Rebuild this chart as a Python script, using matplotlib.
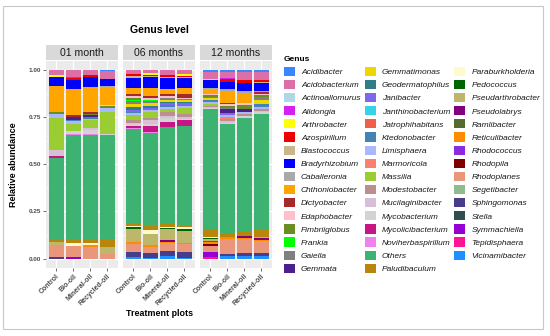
import matplotlib
matplotlib.use("Agg")
import matplotlib.pyplot as plt
from matplotlib.patches import Patch, Rectangle

plt.rcParams['font.family'] = ['Liberation Sans', 'DejaVu Sans']

# legend / stacking order (first level sits on top of the stack, like ggplot)
genera = ['Acidibacter', 'Acidobacterium', 'Actinoallomurus', 'Alidongia', 'Arthrobacter',
          'Azospirillum', 'Blastococcus', 'Bradyrhizobium', 'Caballeronia', 'Chthoniobacter',
          'Dictyobacter', 'Edaphobacter', 'Fimbriiglobus', 'Frankia', 'Gaiella', 'Gemmata',
          'Gemmatimonas', 'Geodermatophilus', 'Janibacter', 'Janthinobacterium',
          'Jatrophihabitans', 'Ktedonobacter', 'Limisphaera', 'Marmoricola', 'Massilia',
          'Modestobacter', 'Mucilaginibacter', 'Mycobacterium', 'Mycolicibacterium',
          'Noviherbaspirillum', 'Others', 'Paludibaculum', 'Paraburkholderia', 'Pedococcus',
          'Pseudarthrobacter', 'Pseudolabrys', 'Ramlibacter', 'Reticulibacter', 'Rhodococcus',
          'Rhodopila', 'Rhodoplanes', 'Segetibacter', 'Sphingomonas', 'Stella', 'Symmachiella',
          'Tepidisphaera', 'Vicinamibacter']
genus_colors = ['#3A86FF', '#DB70A8', '#ADD8E6', '#D41FF0', '#FFFF00',
                '#EE0000', '#C9B68C', '#0000FF', '#A9A9A9', '#FFA500',
                '#A52A2A', '#FFC0CB', '#6B8E23', '#00FF00', '#808080', '#4E1E8E',
                '#EED600', '#2E7D87', '#7B68EE', '#36D3E8',
                '#F06048', '#4682B4', '#AAB9FF', '#FA8072', '#9ACD32',
                '#BC8F8F', '#D8BFD8', '#D3D3D3', '#C71585',
                '#EE82EE', '#3CB371', '#B8860B', '#FFFACD', '#006400',
                '#BDB76B', '#800080', '#556B2F', '#FF8C00', '#8A2BE2',
                '#800000', '#E9967A', '#8FBC8F', '#483D8B', '#2F4F4F', '#9400D3',
                '#FF1493', '#1E90FF']

months = ['01 month', '06 months', '12 months']
treatments = ['Control', 'Bio-oil', 'Mineral-oil', 'Recycled-oil']
y_ticks = [0, 0.25, 0.5, 0.75, 1.0]
y_tick_labels = ['0.00', '0.25', '0.50', '0.75', '1.00']

# relative abundances (genera not listed are ~0)
m01_control = {'Acidobacterium': 0.025, 'Arthrobacter': 0.015, 'Bradyrhizobium': 0.045,
               'Chthoniobacter': 0.14, 'Fimbriiglobus': 0.01, 'Limisphaera': 0.02,
               'Massilia': 0.17, 'Mucilaginibacter': 0.03, 'Mycolicibacterium': 0.01,
               'Others': 0.435, 'Paludibaculum': 0.012, 'Pseudarthrobacter': 0.018,
               'Rhodoplanes': 0.06, 'Sphingomonas': 0.01}
m01_bio = {'Acidobacterium': 0.04, 'Alidongia': 0.005, 'Azospirillum': 0.008,
           'Bradyrhizobium': 0.05, 'Chthoniobacter': 0.135, 'Dictyobacter': 0.012,
           'Gemmata': 0.013, 'Ktedonobacter': 0.01, 'Limisphaera': 0.012, 'Massilia': 0.04,
           'Mycobacterium': 0.015, 'Noviherbaspirillum': 0.005, 'Others': 0.555,
           'Paludibaculum': 0.02, 'Paraburkholderia': 0.012, 'Rhodoplanes': 0.058,
           'Symmachiella': 0.01}
m01_mineral = {'Acidobacterium': 0.025, 'Azospirillum': 0.01, 'Bradyrhizobium': 0.055,
               'Chthoniobacter': 0.135, 'Dictyobacter': 0.007, 'Fimbriiglobus': 0.008,
               'Gemmata': 0.008, 'Ktedonobacter': 0.01, 'Limisphaera': 0.01, 'Massilia': 0.04,
               'Mucilaginibacter': 0.01, 'Mycobacterium': 0.02, 'Noviherbaspirillum': 0.005,
               'Others': 0.555, 'Paludibaculum': 0.02, 'Paraburkholderia': 0.012,
               'Reticulibacter': 0.01, 'Rhodoplanes': 0.06}
m01_recycled = {'Acidibacter': 0.006, 'Acidobacterium': 0.04, 'Bradyrhizobium': 0.037,
                'Caballeronia': 0.006, 'Chthoniobacter': 0.097, 'Edaphobacter': 0.006,
                'Fimbriiglobus': 0.01, 'Limisphaera': 0.02, 'Massilia': 0.115,
                'Mycobacterium': 0.008, 'Others': 0.555, 'Paludibaculum': 0.04,
                'Pseudarthrobacter': 0.035, 'Rhodoplanes': 0.025}

m06_control = {'Acidobacterium': 0.02, 'Azospirillum': 0.01, 'Blastococcus': 0.015,
               'Bradyrhizobium': 0.05, 'Chthoniobacter': 0.03, 'Dictyobacter': 0.01,
               'Edaphobacter': 0.015, 'Fimbriiglobus': 0.008, 'Frankia': 0.008,
               'Gaiella': 0.015, 'Gemmatimonas': 0.015, 'Geodermatophilus': 0.015,
               'Janibacter': 0.012, 'Ktedonobacter': 0.005, 'Limisphaera': 0.01,
               'Massilia': 0.025, 'Modestobacter': 0.015, 'Mucilaginibacter': 0.01,
               'Mycobacterium': 0.01, 'Mycolicibacterium': 0.01, 'Noviherbaspirillum': 0.005,
               'Others': 0.495, 'Paludibaculum': 0.015, 'Paraburkholderia': 0.008,
               'Pedococcus': 0.007, 'Pseudarthrobacter': 0.07, 'Reticulibacter': 0.012,
               'Rhodoplanes': 0.04, 'Sphingomonas': 0.03, 'Vicinamibacter': 0.006}
m06_bio = {'Acidobacterium': 0.015, 'Arthrobacter': 0.01, 'Azospirillum': 0.008,
           'Blastococcus': 0.005, 'Bradyrhizobium': 0.055, 'Chthoniobacter': 0.045,
           'Dictyobacter': 0.01, 'Edaphobacter': 0.008, 'Frankia': 0.008, 'Gaiella': 0.01,
           'Gemmatimonas': 0.015, 'Geodermatophilus': 0.012, 'Janibacter': 0.01,
           'Limisphaera': 0.012, 'Massilia': 0.03, 'Modestobacter': 0.012,
           'Mucilaginibacter': 0.02, 'Mycobacterium': 0.01, 'Mycolicibacterium': 0.03,
           'Noviherbaspirillum': 0.01, 'Others': 0.49, 'Paludibaculum': 0.02,
           'Paraburkholderia': 0.02, 'Pseudarthrobacter': 0.06, 'Reticulibacter': 0.01,
           'Rhodoplanes': 0.03, 'Sphingomonas': 0.025, 'Vicinamibacter': 0.005}
m06_mineral = {'Acidobacterium': 0.025, 'Azospirillum': 0.015, 'Blastococcus': 0.005,
               'Bradyrhizobium': 0.055, 'Chthoniobacter': 0.03, 'Dictyobacter': 0.008,
               'Edaphobacter': 0.012, 'Gaiella': 0.01, 'Gemmatimonas': 0.01,
               'Geodermatophilus': 0.005, 'Janibacter': 0.01, 'Ktedonobacter': 0.012,
               'Limisphaera': 0.008, 'Massilia': 0.02, 'Modestobacter': 0.02,
               'Mucilaginibacter': 0.01, 'Mycobacterium': 0.02, 'Mycolicibacterium': 0.025,
               'Others': 0.51, 'Paludibaculum': 0.02, 'Paraburkholderia': 0.008,
               'Pedococcus': 0.007, 'Pseudarthrobacter': 0.055, 'Pseudolabrys': 0.01,
               'Reticulibacter': 0.008, 'Rhodoplanes': 0.042, 'Sphingomonas': 0.025,
               'Vicinamibacter': 0.015}
m06_recycled = {'Acidobacterium': 0.02, 'Arthrobacter': 0.01, 'Azospirillum': 0.008,
                'Blastococcus': 0.005, 'Bradyrhizobium': 0.055, 'Chthoniobacter': 0.03,
                'Dictyobacter': 0.02, 'Edaphobacter': 0.005, 'Gaiella': 0.008,
                'Gemmatimonas': 0.01, 'Geodermatophilus': 0.005, 'Janibacter': 0.015,
                'Limisphaera': 0.01, 'Massilia': 0.03, 'Modestobacter': 0.02,
                'Mucilaginibacter': 0.008, 'Mycobacterium': 0.006, 'Mycolicibacterium': 0.03,
                'Others': 0.53, 'Paludibaculum': 0.008, 'Paraburkholderia': 0.01,
                'Pedococcus': 0.012, 'Pseudarthrobacter': 0.06, 'Reticulibacter': 0.01,
                'Rhodoplanes': 0.04, 'Sphingomonas': 0.03, 'Vicinamibacter': 0.005}

m12_control = {'Acidibacter': 0.01, 'Acidobacterium': 0.04, 'Actinoallomurus': 0.005,
               'Bradyrhizobium': 0.04, 'Caballeronia': 0.005, 'Chthoniobacter': 0.03,
               'Edaphobacter': 0.005, 'Fimbriiglobus': 0.008, 'Gaiella': 0.005,
               'Gemmatimonas': 0.01, 'Ktedonobacter': 0.01, 'Limisphaera': 0.012,
               'Massilia': 0.01, 'Modestobacter': 0.005, 'Mucilaginibacter': 0.005,
               'Mycobacterium': 0.005, 'Others': 0.64, 'Paludibaculum': 0.04,
               'Paraburkholderia': 0.005, 'Pedococcus': 0.008, 'Pseudarthrobacter': 0.008,
               'Ramlibacter': 0.005, 'Reticulibacter': 0.01, 'Rhodopila': 0.01,
               'Rhodoplanes': 0.035, 'Symmachiella': 0.028, 'Tepidisphaera': 0.006}
m12_bio = {'Acidibacter': 0.01, 'Acidobacterium': 0.035, 'Alidongia': 0.005,
           'Azospirillum': 0.015, 'Bradyrhizobium': 0.035, 'Caballeronia': 0.01,
           'Chthoniobacter': 0.065, 'Dictyobacter': 0.005, 'Edaphobacter': 0.01,
           'Fimbriiglobus': 0.01, 'Gaiella': 0.01, 'Gemmata': 0.02, 'Janibacter': 0.008,
           'Limisphaera': 0.012, 'Marmoricola': 0.01, 'Modestobacter': 0.01,
           'Mucilaginibacter': 0.012, 'Mycobacterium': 0.008, 'Others': 0.584,
           'Paludibaculum': 0.015, 'Reticulibacter': 0.01, 'Rhodoplanes': 0.08,
           'Sphingomonas': 0.01, 'Vicinamibacter': 0.015}
m12_mineral = {'Acidibacter': 0.01, 'Acidobacterium': 0.045, 'Azospirillum': 0.012,
               'Bradyrhizobium': 0.045, 'Caballeronia': 0.01, 'Chthoniobacter': 0.055,
               'Edaphobacter': 0.008, 'Fimbriiglobus': 0.02, 'Gemmata': 0.02,
               'Limisphaera': 0.008, 'Modestobacter': 0.01, 'Mycobacterium': 0.01,
               'Others': 0.60, 'Paludibaculum': 0.025, 'Pseudarthrobacter': 0.005,
               'Pseudolabrys': 0.01, 'Reticulibacter': 0.005, 'Rhodoplanes': 0.075,
               'Sphingomonas': 0.015, 'Vicinamibacter': 0.012}
m12_recycled = {'Acidibacter': 0.01, 'Acidobacterium': 0.045, 'Azospirillum': 0.01,
                'Blastococcus': 0.005, 'Bradyrhizobium': 0.04, 'Caballeronia': 0.005,
                'Dictyobacter': 0.01, 'Edaphobacter': 0.01, 'Fimbriiglobus': 0.01,
                'Gaiella': 0.015, 'Gemmatimonas': 0.02, 'Ktedonobacter': 0.015,
                'Limisphaera': 0.01, 'Modestobacter': 0.015, 'Mucilaginibacter': 0.005,
                'Mycobacterium': 0.01, 'Others': 0.615, 'Paludibaculum': 0.035,
                'Pseudarthrobacter': 0.008, 'Pseudolabrys': 0.01, 'Reticulibacter': 0.005,
                'Rhodoplanes': 0.06, 'Sphingomonas': 0.02, 'Vicinamibacter': 0.012}

samples = [[m01_control, m01_bio, m01_mineral, m01_recycled],
           [m06_control, m06_bio, m06_mineral, m06_recycled],
           [m12_control, m12_bio, m12_mineral, m12_recycled]]

W, H = 550, 336
fig = plt.figure(figsize=(W / 100, H / 100), dpi=100)


def px_box(x0, y0, x1, y1):
    # pixel box (top-left origin) -> figure fraction rect
    return [x0 / W, 1 - y1 / H, (x1 - x0) / W, (y1 - y0) / H]


panel_left = [46, 123, 200]
panel_w = 71.5

for p, month in enumerate(months):
    x0 = panel_left[p]
    ax = fig.add_axes(px_box(x0, 60.5, x0 + panel_w, 268))
    ax.set_facecolor('#EBEBEB')
    for s in ax.spines.values():
        s.set_visible(False)
    ax.set_xlim(0.4, 4.6)
    ax.set_ylim(-0.05, 1.05)
    ax.set_axisbelow(True)
    ax.set_yticks(y_ticks)
    ax.set_yticks([0.125, 0.375, 0.625, 0.875], minor=True)
    ax.grid(True, which='major', color='white', linewidth=0.9)
    ax.grid(True, which='minor', axis='y', color='white', linewidth=0.45)

    for i, sample in enumerate(samples[p]):
        total = sum(sample.values())
        bottom = 0.0
        for genus, col in zip(reversed(genera), reversed(genus_colors)):
            v = sample.get(genus, 0) / total  # position = "fill"
            if v > 0:
                ax.bar(i + 1, v, bottom=bottom, width=0.9, color=col, linewidth=0)
                bottom += v

    ax.set_xticks(range(1, len(treatments) + 1))
    ax.set_xticklabels(treatments, rotation=45, ha='right', va='top',
                       rotation_mode='anchor', fontsize=5, fontweight='bold', color='#4D4D4D')
    ax.tick_params(axis='both', which='major', length=2, width=0.5, color='#333333', pad=1.5)
    ax.tick_params(axis='y', which='minor', length=0)
    if p == 0:
        ax.set_yticklabels(y_tick_labels, fontsize=4.6, fontweight='bold', color='#4D4D4D')
    else:
        ax.set_yticklabels([])
        ax.tick_params(axis='y', length=0)

    sax = fig.add_axes(px_box(x0, 45, x0 + panel_w, 59.5))
    sax.set_facecolor('#D9D9D9')
    sax.set_xticks([])
    sax.set_yticks([])
    for s in sax.spines.values():
        s.set_visible(False)
    sax.text(0.5, 0.48, month, ha='center', va='center', fontsize=7.6, color='#1A1A1A',
             transform=sax.transAxes)

fig.text(159 / W, 1 - 30 / H, 'Genus level', ha='center', va='center',
         fontsize=7.6, fontweight='bold')
fig.text(14 / W, 1 - 165 / H, 'Relative abundance', rotation=90, ha='center', va='center',
         fontsize=6.5, fontweight='bold')
fig.text(159 / W, 1 - 314 / H, 'Treatment plots', ha='center', va='center',
         fontsize=6.4, fontweight='bold')

handles = [Patch(facecolor=c, edgecolor='none') for c in genus_colors]
leg = fig.legend(handles, genera, ncol=3, loc='upper left',
                 bbox_to_anchor=(284 / W, 1 - 56 / H), frameon=False, fontsize=6,
                 title='Genus', title_fontproperties={'weight': 'bold', 'size': 6},
                 handlelength=1.32, handleheight=1.32, handletextpad=0.72,
                 columnspacing=0.48, labelspacing=0.45, borderpad=0, borderaxespad=0,
                 alignment='left')
for t in leg.get_texts():
    t.set_fontstyle('italic')
    t.set_color('#1A1A1A')

fig.patches.append(Rectangle((3 / W, 1 - 329 / H), 540 / W, 323 / H, transform=fig.transFigure,
                             fill=False, edgecolor='#C8C8C8', linewidth=0.8))

fig.savefig('out.png', dpi=100)
